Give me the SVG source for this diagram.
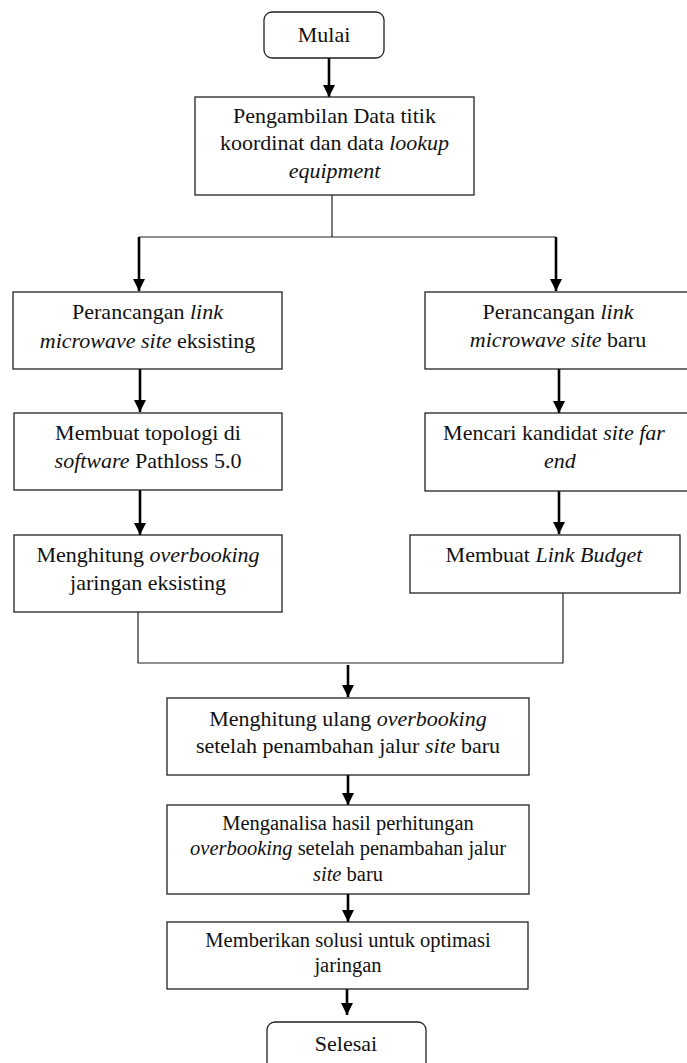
<svg xmlns="http://www.w3.org/2000/svg" width="687" height="1063" viewBox="0 0 687 1063">
<style>
.box{fill:#fff;stroke:#222;stroke-width:1.3}
.t{font-family:"Liberation Serif","Times New Roman",serif;font-size:22px;fill:#111;text-anchor:middle}
.s{font-size:20.5px}
.i{font-style:italic}
.thin{stroke:#222;stroke-width:1.2;fill:none}
.arr{stroke:#000;stroke-width:2.6;fill:none;marker-end:url(#ah)}
</style>
<defs>
<marker id="ah" markerUnits="userSpaceOnUse" viewBox="0 0 12 12" refX="12" refY="6" markerWidth="12" markerHeight="12" orient="auto">
<path d="M0,0 L12,6 L0,12 z" fill="#000"/>
</marker>
</defs>
<rect width="687" height="1063" fill="#fff"/>
<g id="connectors">
<line class="arr" x1="329" y1="58" x2="329" y2="97"/>
<line class="thin" x1="332" y1="195" x2="332" y2="237"/>
<line class="thin" x1="139" y1="237" x2="556" y2="237"/>
<line class="arr" x1="139" y1="237" x2="139" y2="291"/>
<line class="arr" x1="556" y1="237" x2="556" y2="291"/>
<line class="arr" x1="140" y1="369" x2="140" y2="412"/>
<line class="arr" x1="140" y1="490" x2="140" y2="535"/>
<line class="arr" x1="559" y1="369" x2="559" y2="413"/>
<line class="arr" x1="559" y1="491" x2="559" y2="534"/>
<polyline class="thin" points="138,612 138,663 563,663 563,593"/>
<line class="arr" x1="348" y1="665" x2="348" y2="697"/>
<line class="arr" x1="348" y1="775" x2="348" y2="805"/>
<line class="arr" x1="348" y1="894" x2="348" y2="922"/>
<line class="arr" x1="347" y1="989" x2="347" y2="1015"/>
</g>
<g id="mulai">
<rect class="box" x="264" y="12" width="120" height="46" rx="8"/>
<text class="t" x="324" y="42">Mulai</text>
</g>
<g id="pengambilan">
<rect class="box" x="195" y="97" width="279" height="98"/>
<text class="t" x="334.5" y="123">Pengambilan Data titik</text>
<text class="t" x="334.5" y="150">koordinat dan data <tspan class="i">lookup</tspan></text>
<text class="t i" x="334.5" y="178">equipment</text>
</g>
<g id="perancangan-eksisting">
<rect class="box" x="13" y="292" width="269" height="77"/>
<text class="t" x="147.5" y="319">Perancangan <tspan class="i">link</tspan></text>
<text class="t" x="147.5" y="348"><tspan class="i">microwave site</tspan> eksisting</text>
</g>
<g id="topologi">
<rect class="box" x="14" y="413" width="268" height="77"/>
<text class="t" x="148" y="440">Membuat topologi di</text>
<text class="t" x="148" y="468"><tspan class="i">software</tspan> Pathloss 5.0</text>
</g>
<g id="overbooking-eksisting">
<rect class="box" x="14" y="535" width="268" height="77"/>
<text class="t" x="148" y="562">Menghitung <tspan class="i">overbooking</tspan></text>
<text class="t" x="148" y="590">jaringan eksisting</text>
</g>
<g id="perancangan-baru">
<rect class="box" x="425" y="292" width="263" height="77"/>
<text class="t" x="558" y="319">Perancangan <tspan class="i">link</tspan></text>
<text class="t" x="558" y="347"><tspan class="i">microwave site</tspan> baru</text>
</g>
<g id="kandidat">
<rect class="box" x="425" y="413" width="263" height="78"/>
<text class="t" x="554" y="440">Mencari kandidat <tspan class="i">site far</tspan></text>
<text class="t i" x="560" y="468">end</text>
</g>
<g id="link-budget">
<rect class="box" x="410" y="535" width="270" height="58"/>
<text class="t" x="544" y="562">Membuat <tspan class="i">Link Budget</tspan></text>
</g>
<g id="hitung-ulang">
<rect class="box" x="167" y="698" width="362" height="77"/>
<text class="t" x="348" y="726">Menghitung ulang <tspan class="i">overbooking</tspan></text>
<text class="t" x="348" y="753">setelah penambahan jalur <tspan class="i">site</tspan> baru</text>
</g>
<g id="analisa">
<rect class="box" x="167" y="805" width="362" height="89"/>
<text class="t s" x="348" y="830">Menganalisa hasil perhitungan</text>
<text class="t s" x="348" y="855"><tspan class="i">overbooking</tspan> setelah penambahan jalur</text>
<text class="t s" x="348" y="881"><tspan class="i">site</tspan> baru</text>
</g>
<g id="solusi">
<rect class="box" x="167" y="922" width="361" height="67"/>
<text class="t s" x="348" y="947">Memberikan solusi untuk optimasi</text>
<text class="t s" x="348" y="972">jaringan</text>
</g>
<g id="selesai">
<rect class="box" x="267" y="1022" width="159" height="60" rx="8"/>
<text class="t" x="346" y="1051">Selesai</text>
</g>
</svg>
